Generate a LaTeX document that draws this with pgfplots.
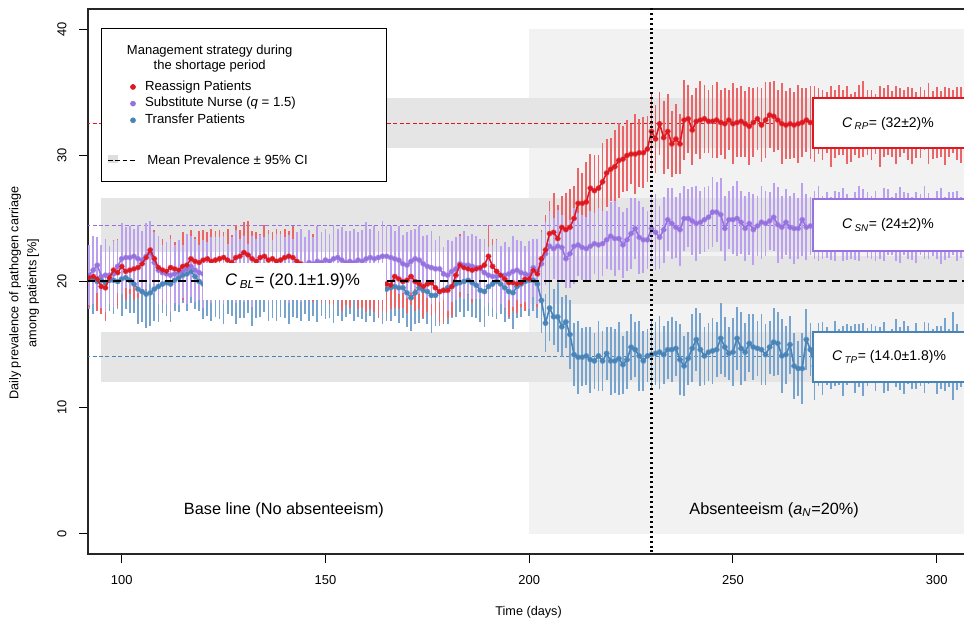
\documentclass[border=0pt]{standalone}
\usepackage{pgfplots}
\pgfplotsset{compat=1.18}
\usepackage{pgfplotstable}
\usepackage{fontspec}
\setmainfont{Liberation Sans}
\definecolor{cRP}{RGB}{222,24,32}
\definecolor{cSN}{RGB}{150,114,222}
\definecolor{cTP}{RGB}{72,132,184}
\definecolor{eRP}{RGB}{234,100,104}
\definecolor{eSN}{RGB}{186,160,238}
\definecolor{eTP}{RGB}{118,164,206}
\definecolor{band}{RGB}{229,229,229}
\definecolor{absbg}{RGB}{242,242,242}
\pgfplotstableread{
x r re s se t te
92 20.3 2.3 20.5 2.4 20.3 2.5
93 20.4 2.0 20.9 2.7 20.2 2.8
94 20.2 2.5 21.3 2.2 20.0 2.3
95 19.6 2.2 20.4 2.5 20.1 2.6
96 19.5 2.6 20.5 2.9 19.9 3.0
97 20.3 2.1 20.5 2.3 20.1 2.4
98 20.9 2.4 20.6 2.6 20.1 2.7
99 20.7 2.7 21.2 2.1 20.0 2.2
100 21.2 2.2 21.8 2.8 20.2 2.9
101 20.8 2.3 21.9 2.4 20.3 2.5
102 20.9 1.9 21.9 2.5 20.1 2.6
103 21.0 2.5 22.0 2.2 19.8 2.3
104 21.1 2.4 21.8 2.7 19.4 2.8
105 21.4 2.1 21.7 2.3 19.2 2.4
106 21.9 2.6 22.0 2.6 19.0 2.7
107 22.5 2.3 22.3 2.5 19.1 2.6
108 21.8 2.3 21.5 2.4 19.4 2.5
109 21.1 2.0 20.9 2.7 19.6 2.8
110 20.9 2.5 20.7 2.2 19.8 2.3
111 20.8 2.2 20.6 2.5 19.9 2.6
112 21.1 2.6 20.5 2.9 19.8 3.0
113 21.0 2.1 20.6 2.3 20.1 2.4
114 20.9 2.4 20.7 2.6 20.3 2.7
115 21.2 2.7 20.8 2.1 20.5 2.2
116 21.3 2.2 21.0 2.8 20.6 2.9
117 21.8 2.3 21.2 2.4 20.8 2.5
118 21.6 1.9 20.9 2.5 20.4 2.6
119 21.5 2.5 20.7 2.2 20.0 2.3
120 21.7 2.4 20.6 2.7 19.8 2.8
121 21.8 2.1 20.8 2.3 19.7 2.4
122 21.6 2.6 20.9 2.6 19.6 2.7
123 21.7 2.3 21.0 2.5 19.8 2.6
124 21.8 2.3 21.1 2.4 19.5 2.5
125 21.9 2.0 20.9 2.7 19.4 2.8
126 21.7 2.5 20.8 2.2 19.7 2.3
127 21.5 2.2 21.0 2.5 19.9 2.6
128 21.9 2.6 21.2 2.9 19.6 3.0
129 22.0 2.1 21.1 2.3 19.5 2.4
130 22.3 2.4 21.0 2.6 19.8 2.7
131 22.1 2.7 20.9 2.1 19.7 2.2
132 21.8 2.2 20.8 2.8 19.4 2.9
133 21.6 2.3 21.0 2.4 19.6 2.5
134 21.9 1.9 21.2 2.5 19.8 2.6
135 22.0 2.5 21.3 2.2 19.9 2.3
136 21.7 2.4 21.1 2.7 19.7 2.8
137 21.8 2.1 21.0 2.3 19.5 2.4
138 21.6 2.6 21.2 2.6 19.6 2.7
139 21.7 2.3 21.3 2.5 19.8 2.6
140 21.9 2.3 21.1 2.4 19.6 2.5
141 22.0 2.0 21.0 2.7 19.4 2.8
142 21.9 2.5 21.2 2.2 19.5 2.3
143 21.6 2.2 21.4 2.5 19.7 2.6
144 21.4 2.6 21.3 2.9 19.9 3.0
145 21.2 2.1 21.2 2.3 19.8 2.4
146 21.0 2.4 21.5 2.6 19.6 2.7
147 21.1 2.7 21.4 2.1 19.5 2.2
148 20.8 2.2 21.6 2.8 19.7 2.9
149 20.6 2.3 21.5 2.4 19.8 2.5
150 20.9 1.9 21.7 2.5 19.6 2.6
151 20.7 2.5 21.6 2.2 19.4 2.3
152 20.5 2.4 21.8 2.7 19.5 2.8
153 20.6 2.1 21.9 2.3 19.7 2.4
154 20.3 2.6 21.7 2.6 19.6 2.7
155 20.4 2.3 21.5 2.5 19.8 2.6
156 20.2 2.3 21.6 2.4 19.9 2.5
157 20.5 2.0 21.5 2.7 19.7 2.8
158 20.3 2.5 21.7 2.2 19.5 2.3
159 20.1 2.2 21.6 2.5 19.6 2.6
160 20.2 2.6 21.8 2.9 19.8 3.0
161 19.9 2.1 21.9 2.3 19.7 2.4
162 20.0 2.4 21.8 2.6 19.5 2.7
163 19.8 2.7 21.9 2.1 19.6 2.2
164 19.9 2.2 22.0 2.8 19.5 2.9
165 19.8 2.3 22.0 2.4 19.4 2.5
166 19.7 1.9 21.9 2.5 19.5 2.6
167 20.4 2.5 21.8 2.2 19.6 2.3
168 20.2 2.4 21.7 2.7 19.5 2.8
169 20.0 2.1 21.4 2.3 19.5 2.4
170 20.1 2.6 21.3 2.6 19.1 2.7
171 20.4 2.3 21.6 2.5 18.7 2.6
172 20.0 2.3 21.8 2.4 19.1 2.5
173 19.8 2.0 21.7 2.7 19.5 2.8
174 19.6 2.5 21.4 2.2 19.3 2.3
175 19.8 2.2 21.2 2.5 19.2 2.6
176 19.9 2.6 21.1 2.9 18.9 3.0
177 19.5 2.1 21.0 2.3 18.9 2.4
178 19.2 2.4 21.0 2.6 19.2 2.7
179 19.3 2.7 20.6 2.1 19.3 2.2
180 19.3 2.2 20.5 2.8 19.5 2.9
181 19.6 2.3 20.8 2.4 19.6 2.5
182 20.5 1.9 21.0 2.5 19.8 2.6
183 21.3 2.5 21.4 2.2 19.9 2.3
184 21.1 2.4 21.3 2.7 20.0 2.8
185 21.0 2.1 21.3 2.3 20.1 2.4
186 20.9 2.6 21.2 2.6 19.9 2.7
187 21.0 2.3 21.1 2.5 19.7 2.6
188 21.1 2.3 21.0 2.4 19.3 2.5
189 21.3 2.0 20.7 2.7 19.2 2.8
190 22.0 2.5 20.5 2.2 19.6 2.3
191 21.2 2.2 20.4 2.5 19.8 2.6
192 20.8 2.6 20.4 2.9 20.0 3.0
193 20.5 2.1 20.5 2.3 19.8 2.4
194 20.2 2.4 20.5 2.6 19.5 2.7
195 19.9 2.7 20.6 2.1 19.2 2.2
196 19.9 2.2 20.8 2.8 19.1 2.9
197 19.8 2.3 20.9 2.4 19.6 2.5
198 19.9 1.9 20.7 2.5 19.8 2.6
199 20.2 2.5 20.6 2.2 20.0 2.3
200 20.2 2.4 20.5 2.7 20.1 2.8
201 20.9 2.1 21.1 2.3 20.1 2.4
202 20.6 2.6 20.8 2.6 19.8 2.7
203 21.8 2.3 21.4 2.5 18.5 2.6
204 22.5 2.8 22.2 2.5 16.7 2.3
205 23.8 2.6 22.8 2.8 17.9 2.6
206 23.9 3.1 22.6 2.4 17.2 2.2
207 23.4 2.7 22.8 2.9 17.2 2.8
208 24.3 2.5 22.7 2.6 16.4 2.4
209 24.1 2.9 21.8 2.3 16.8 2.1
210 24.3 3.0 22.2 2.7 15.8 2.7
211 25.0 2.6 22.8 3.0 14.2 2.5
212 26.2 2.8 22.9 2.5 14.0 2.9
213 26.2 2.4 22.7 2.6 14.0 2.3
214 26.3 3.2 22.6 2.5 14.1 2.3
215 27.4 2.7 22.8 2.8 13.8 2.6
216 27.2 2.8 23.0 2.4 13.7 2.2
217 27.4 2.6 22.9 2.9 14.1 2.8
218 27.9 3.1 23.0 2.6 13.7 2.4
219 28.6 2.7 23.3 2.3 14.3 2.1
220 28.9 2.5 23.6 2.7 13.7 2.7
221 29.1 2.9 23.4 3.0 13.7 2.5
222 29.6 3.0 23.4 2.5 13.9 2.9
223 29.7 2.6 22.9 2.6 13.4 2.3
224 30.0 2.8 23.3 2.5 13.8 2.3
225 30.1 2.4 23.8 2.8 14.8 2.6
226 30.1 3.2 24.2 2.4 14.6 2.2
227 30.2 2.7 23.5 2.9 14.1 2.8
228 30.2 2.8 23.3 2.6 13.7 2.4
229 30.5 2.6 23.3 2.3 14.1 2.1
230 31.9 3.1 24.2 2.7 14.2 2.7
231 31.3 2.7 23.9 3.0 14.3 2.5
232 32.5 2.5 23.5 2.5 14.4 2.9
233 31.4 2.9 24.1 2.6 14.2 2.3
234 31.9 3.0 24.9 2.5 14.6 2.3
235 30.9 2.6 24.6 2.8 14.6 2.6
236 31.3 2.8 24.3 2.4 14.7 2.2
237 30.9 2.4 24.1 2.9 13.8 2.8
238 32.8 3.2 25.0 2.6 13.3 2.4
239 32.9 2.7 25.0 2.3 13.9 2.1
240 32.0 2.8 24.8 2.7 14.7 2.7
241 32.7 2.6 24.6 3.0 15.4 2.5
242 32.8 3.1 24.7 2.5 14.6 2.9
243 32.9 2.7 24.9 2.6 14.1 2.3
244 32.7 2.5 25.1 2.5 14.4 2.3
245 32.7 2.9 25.5 2.8 14.5 2.6
246 32.8 3.0 25.5 2.4 14.6 2.2
247 32.6 2.6 25.3 2.9 15.5 2.8
248 32.5 2.8 24.2 2.6 14.8 2.4
249 32.8 2.4 24.9 2.3 14.3 2.1
250 32.5 3.2 24.9 2.7 14.4 2.7
251 32.6 2.7 25.0 3.0 15.5 2.5
252 32.7 2.8 24.7 2.5 14.7 2.9
253 32.5 2.6 24.2 2.6 14.4 2.3
254 32.3 3.1 24.6 2.5 15.1 2.3
255 32.6 2.7 24.1 2.8 14.8 2.6
256 32.9 2.5 24.4 2.4 14.7 2.2
257 32.4 2.9 24.7 2.9 14.6 2.8
258 32.8 3.0 24.6 2.6 14.2 2.4
259 33.2 2.6 24.8 2.3 14.8 2.1
260 33.1 2.8 25.1 2.7 15.2 2.7
261 32.8 2.4 24.5 3.0 15.1 2.5
262 32.5 3.2 24.3 2.5 14.1 2.9
263 32.4 2.7 24.7 2.6 14.2 2.3
264 32.5 2.8 24.3 2.5 15.0 2.3
265 32.4 2.6 24.2 2.8 13.3 2.6
266 32.5 3.1 24.2 2.4 13.1 2.2
267 32.6 2.7 24.9 2.9 13.1 2.8
268 32.8 2.5 24.3 2.6 15.4 2.4
269 32.6 2.9 24.4 2.3 14.6 2.1
270 32.5 3.0 24.5 2.7 13.3 2.7
271 32.7 2.6 24.6 3.0 14.2 2.5
272 32.4 2.8 24.3 2.5 13.9 2.9
273 32.6 2.4 24.5 2.6 14.1 2.3
274 32.3 3.2 24.2 2.5 13.8 2.3
275 32.5 2.7 24.4 2.8 14.3 2.6
276 32.8 2.8 24.7 2.4 14.0 2.2
277 32.6 2.6 24.5 2.9 13.7 2.8
278 32.4 3.1 24.3 2.6 14.2 2.4
279 32.2 2.7 24.1 2.3 14.4 2.1
280 32.5 2.5 24.4 2.7 13.9 2.7
281 32.7 2.9 24.6 3.0 14.1 2.5
282 32.9 3.0 24.8 2.5 13.8 2.9
283 32.6 2.6 24.5 2.6 14.0 2.3
284 32.4 2.8 24.3 2.5 14.3 2.3
285 32.5 2.4 24.4 2.8 13.9 2.6
286 32.3 3.2 24.2 2.4 14.2 2.2
287 32.6 2.7 24.5 2.9 14.0 2.8
288 32.8 2.8 24.7 2.6 13.7 2.4
289 32.5 2.6 24.4 2.3 14.1 2.1
290 32.4 3.1 24.3 2.7 14.3 2.7
291 32.6 2.7 24.5 3.0 13.9 2.5
292 32.7 2.5 24.6 2.5 14.0 2.9
293 32.5 2.9 24.4 2.6 14.2 2.3
294 32.3 3.0 24.2 2.5 13.8 2.3
295 32.4 2.6 24.3 2.8 14.1 2.6
296 32.6 2.8 24.5 2.4 13.9 2.2
297 32.8 2.4 24.7 2.9 14.0 2.8
298 32.5 3.2 24.4 2.6 14.3 2.4
299 32.4 2.7 24.3 2.3 14.1 2.1
300 32.6 2.8 24.5 2.7 13.8 2.7
301 32.5 2.6 24.4 3.0 14.0 2.5
302 32.3 3.1 24.2 2.5 14.2 2.9
303 32.6 2.7 24.5 2.6 13.9 2.3
304 32.7 2.5 24.6 2.5 14.1 3.5
305 32.5 2.9 24.4 2.8 14.0 2.6
306 32.4 3.0 24.3 2.4 13.8 2.2
}\data
\begin{document}
\begin{tikzpicture}[x=0.75pt,y=0.75pt]
\begin{axis}[
  at={(66pt,52.5pt)}, anchor=south west,
  scale only axis, width=661.5pt, height=408.75pt,
  xmin=91.73, xmax=308.17, ymin=-1.6, ymax=41.6,
  xtick={100,150,200,250,300}, ytick={0,10,20,30,40},
  tick pos=left, tick align=outside,
  major tick length=6.5pt,
  tick style={black, line width=0.7pt},
  axis line style={black!85, line width=0.8pt},
  clip marker paths=true,
  /pgf/number format/assume math mode=true,
  ticklabel style={font=\fontsize{9.7pt}{11pt}\selectfont, inner sep=0pt},
  xticklabel style={anchor=north, yshift=-9.5pt},
  yticklabel style={xshift=-9.5pt, rotate=90, anchor=south},
  legend style={at={(axis cs:96.64,36.08)}, anchor=north west, draw=none, fill=none,
     inner sep=0pt, outer sep=0pt, row sep=0pt, column sep=5.8pt,
     font=\fontsize{9.9pt}{12.5pt}\selectfont,
     nodes={inner sep=0pt, text height=8.75pt, text depth=3.75pt}},
  legend cell align=left,
]
% backgrounds
\addplot[forget plot, draw=none, fill=absbg] coordinates {(200,0) (330,0) (330,40) (200,40)};
\addplot[forget plot, draw=none, fill=band] coordinates {(95,30.57) (330,30.57) (330,34.53) (95,34.53)};
\addplot[forget plot, draw=none, fill=band] coordinates {(95,22.3) (330,22.3) (330,26.6) (95,26.6)};
\addplot[forget plot, draw=none, fill=band] coordinates {(200,18.2) (330,18.2) (330,22.0) (200,22.0)};
\addplot[forget plot, draw=none, fill=band] coordinates {(95,12.0) (330,12.0) (330,16.0) (95,16.0)};
% mean lines
\addplot[forget plot, cRP, line width=0.8pt, dash pattern=on 3pt off 1.8pt] coordinates {(85,32.5) (330,32.5)};
\addplot[forget plot, cSN, line width=0.8pt, dash pattern=on 3pt off 1.8pt] coordinates {(85,24.45) (330,24.45)};
\addplot[forget plot, cTP, line width=0.8pt, dash pattern=on 3pt off 1.8pt] coordinates {(85,14.05) (330,14.05)};
% error bars
\addplot[forget plot, eTP, only marks, mark=none, error bars/.cd, y dir=both, y explicit, error mark=none,
  error bar style={line width=1.3pt, solid}] table[x=x, y=t, y error=te] {\data};
\addplot[forget plot, eRP, only marks, mark=none, error bars/.cd, y dir=both, y explicit, error mark=none,
  error bar style={line width=1.3pt, solid}] table[x=x, y=r, y error=re] {\data};
\addplot[forget plot, eSN, only marks, mark=none, error bars/.cd, y dir=both, y explicit, error mark=none,
  error bar style={line width=1.3pt, solid}] table[x=x, y=s, y error=se] {\data};
% lines
\addplot[forget plot, cSN, line width=1.2pt, mark=*, mark size=1.25pt] table[x=x, y=s] {\data};
\addplot[forget plot, cTP, line width=1.2pt, mark=*, mark size=1.25pt] table[x=x, y=t] {\data};
\addplot[forget plot, cRP, line width=1.2pt, mark=*, mark size=1.25pt] table[x=x, y=r] {\data};
% baseline mean and start of shortage
\addplot[forget plot, black, line width=1.5pt, dash pattern=on 6pt off 3.8pt] coordinates {(85,20.05) (330,20.05)};
\addplot[forget plot, black, line width=1.6pt, dash pattern=on 1.5pt off 2.2pt] coordinates {(230,-5) (230,50)};
% label boxes
\draw[fill=white, draw=cRP, line width=1.5pt] (axis cs:269.7,30.57) rectangle (axis cs:330,34.53);
\draw[fill=white, draw=cSN, line width=1.5pt] (axis cs:269.7,22.4) rectangle (axis cs:330,26.5);
\draw[fill=white, draw=cTP, line width=1.5pt] (axis cs:269.7,12.0) rectangle (axis cs:330,16.0);
\fill[white] (axis cs:120,18.5) rectangle (axis cs:164.6,21.5);
% texts
\node[font=\fontsize{12.2pt}{14pt}\selectfont] at (axis cs:139.8,1.9) {Base line (No absenteeism)};
\node[font=\fontsize{12.2pt}{14pt}\selectfont] at (axis cs:260.1,1.9) {Absenteeism (\textit{a}\textsubscript{\textit{N}}=20\%)};
\node[font=\fontsize{12.5pt}{14pt}\selectfont] at (axis cs:141.9,20.0) {\textit{C}\,\textsubscript{\textit{BL}}= (20.1±1.9)\%};
\node[font=\fontsize{10.5pt}{12pt}\selectfont] at (axis cs:288.05,32.5) {\textit{C}\,\textsubscript{\textit{RP}}= (32±2)\%};
\node[font=\fontsize{10.5pt}{12pt}\selectfont] at (axis cs:288.05,24.45) {\textit{C}\,\textsubscript{\textit{SN}}= (24±2)\%};
\node[font=\fontsize{10.5pt}{12pt}\selectfont] at (axis cs:288.3,14.0) {\textit{C}\,\textsubscript{\textit{TP}}= (14.0±1.8)\%};
% legend frame, title and CI entry
\draw[black, line width=0.75pt, fill=white] (axis cs:94.92,40.08) rectangle (axis cs:165.1,27.96);
\node[align=center, font=\fontsize{9.75pt}{11.5pt}\selectfont] at (axis cs:121.6,37.68) {Management strategy during\\the shortage period};
\fill[black!13] (axis cs:96.64,29.39) rectangle (axis cs:99.09,30.02);
\draw[black, line width=0.6pt, dash pattern=on 3.5pt off 2pt] (axis cs:96.64,29.62) -- (axis cs:103.75,29.62);
\node[anchor=west, font=\fontsize{9.9pt}{12.5pt}\selectfont, inner sep=0pt] at (axis cs:106.21,29.62) {Mean Prevalence ± 95\% CI};
% legend entries
\addlegendimage{legend image code/.code={\path[draw=none,fill=none] (0pt,-6pt) rectangle (22pt,6pt); \draw[cRP, mark=*, mark size=1.9pt, mark options={fill=cRP, draw=cRP}] plot coordinates {(18.75pt,0pt)};}}
\addlegendentry{Reassign Patients}
\addlegendimage{legend image code/.code={\path[draw=none,fill=none] (0pt,-6pt) rectangle (22pt,6pt); \draw[cSN, mark=*, mark size=1.9pt, mark options={fill=cSN, draw=cSN}] plot coordinates {(18.75pt,0pt)};}}
\addlegendentry{Substitute Nurse (\textit{q} = 1.5)}
\addlegendimage{legend image code/.code={\path[draw=none,fill=none] (0pt,-6pt) rectangle (22pt,6pt); \draw[cTP, mark=*, mark size=1.9pt, mark options={fill=cTP, draw=cTP}] plot coordinates {(18.75pt,0pt)};}}
\addlegendentry{Transfer Patients}
\end{axis}
\node[font=\fontsize{9.5pt}{11pt}\selectfont] at (528.6,11.3) {Time (days)};
\node[rotate=90, align=center, font=\fontsize{9.5pt}{13.5pt}\selectfont] at (24,331) {Daily prevalence of pathogen carriage\\among patients [\%]};
\pgfresetboundingbox
\path[use as bounding box] (0,0) rectangle (964,624);
\end{tikzpicture}
\end{document}
